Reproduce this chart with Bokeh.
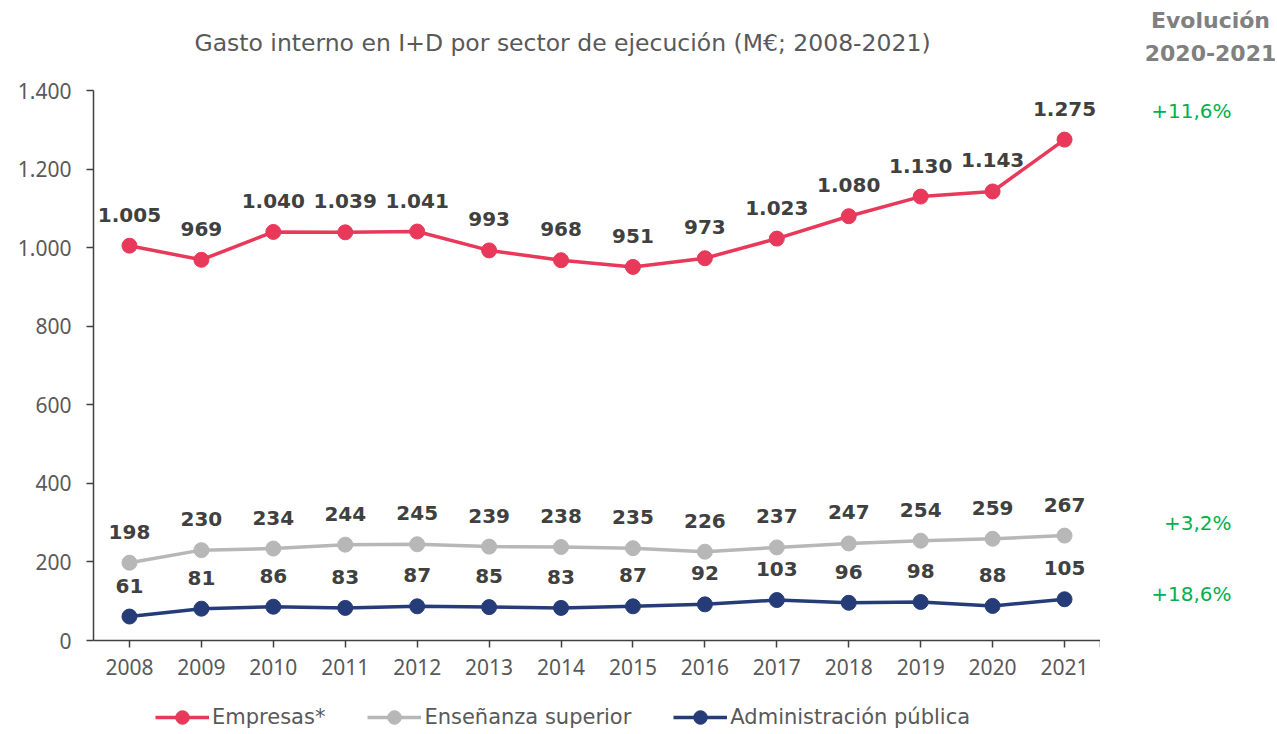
from bokeh.plotting import figure
from bokeh.models import (ColumnDataSource, LabelSet, Label, FixedTicker, Range1d,
                          Legend, LegendItem)
from bokeh.layouts import row, column
from bokeh.core.properties import value
from bokeh.embed import file_html
from bokeh.resources import INLINE

years = list(range(2008, 2022))
empresas = [1005, 969, 1040, 1039, 1041, 993, 968, 951, 973, 1023, 1080, 1130, 1143, 1275]
ensenanza = [198, 230, 234, 244, 245, 239, 238, 235, 226, 237, 247, 254, 259, 267]
administracion = [61, 81, 86, 83, 87, 85, 83, 87, 92, 103, 96, 98, 88, 105]
series_names = ["Empresas*", "Enseñanza superior", "Administración pública"]
evolucion = ["+11,6%", "+3,2%", "+18,6%"]
title_text = "Gasto interno en I+D por sector de ejecución (M€; 2008-2021)"
evol_header = ["Evolución", "2020-2021"]
y_ticks = [0, 200, 400, 600, 800, 1000, 1200, 1400]

colors = ["#E8395A", "#B7B7B7", "#253C78"]
REG = "Noto Sans"
WIDE = "DejaVu Sans"

FL, FT, FR, FB = 93, 90, 1100, 640   # frame edges in page pixels
TOP_H = 70
MAIN_H = 700 - TOP_H
TOTAL_W = 1275
LEG_H = 34


def fmt(v):
    return f"{v:,}".replace(",", ".")


def bare(fig):
    fig.outline_line_color = None
    fig.grid.grid_line_color = None
    fig.background_fill_color = "white"


# top strip: title and "Evolución" header (data units = page pixels)
top = figure(width=TOTAL_W, height=TOP_H, output_backend="svg", toolbar_location=None,
             x_range=Range1d(0, TOTAL_W), y_range=Range1d(TOP_H, 0),
             x_axis_type=None, y_axis_type=None, min_border=0, title=None)
bare(top)
top.add_layout(Label(x=562, y=42, text=title_text, text_align="center",
                     text_baseline="middle", text_font=WIDE, text_font_size="23.5px",
                     text_color="#595959"))
for txt, yy in zip(evol_header, [20, 52]):
    top.add_layout(Label(x=1210, y=yy, text=txt, text_align="center",
                         text_baseline="middle", text_font=WIDE, text_font_style="bold",
                         text_font_size="22px", text_color="#808080"))

# main chart
p = figure(frame_width=FR - FL, frame_height=FB - FT, output_backend="svg",
           toolbar_location=None, title=None,
           x_range=Range1d(2007.5, 2021.5), y_range=Range1d(0, 1400),
           min_border_left=FL, min_border_right=0, min_border_top=FT - TOP_H,
           min_border_bottom=MAIN_H + TOP_H - FB)
bare(p)

p.xaxis.ticker = FixedTicker(ticks=years + [2021.5])
p.xaxis.major_label_overrides = {2021.5: ""}
p.yaxis.ticker = FixedTicker(ticks=y_ticks)
p.yaxis.major_label_overrides = {t: fmt(t) for t in y_ticks}
for ax in (p.xaxis, p.yaxis):
    ax.axis_line_color = "#404040"
    ax.axis_line_width = 1.5
    ax.major_tick_line_color = "#404040"
    ax.major_tick_line_width = 1.5
    ax.major_tick_out = 7
    ax.major_tick_in = 0
    ax.minor_tick_line_color = None
    ax.major_label_text_font = REG
    ax.major_label_text_font_size = "21px"
    ax.major_label_text_color = "#595959"
p.yaxis.major_label_standoff = 15
p.xaxis.major_label_standoff = 11

for vals, col in zip([empresas, ensenanza, administracion], colors):
    src = ColumnDataSource(dict(x=years, y=vals, t=[fmt(v) for v in vals]))
    p.line("x", "y", source=src, line_color=col, line_width=3.5)
    p.scatter("x", "y", source=src, size=15, fill_color=col, line_color=col)
    lab = LabelSet(x="x", y="y", text="t", source=src, y_offset=31,
                   text_align="center", text_baseline="middle",
                   text_font=value(WIDE), text_font_style="bold", text_font_size="20px",
                   text_color="#404040")
    p.add_layout(lab)

# right column: growth figures (data units = page pixels inside its frame)
RL = 1145
r = figure(width=TOTAL_W - FR, height=MAIN_H, output_backend="svg", toolbar_location=None,
           title=None, x_range=Range1d(RL, TOTAL_W), y_range=Range1d(FB, FT),
           x_axis_type=None, y_axis_type=None, min_border=0,
           min_border_left=RL - FR, min_border_top=FT - TOP_H)
bare(r)
for txt, yy in zip(evolucion, [110, 522, 593]):
    r.add_layout(Label(x=1231, y=yy, text=txt, text_align="right",
                       text_baseline="middle", text_font=WIDE,
                       text_font_size="20px", text_color="#00B050"))

# legend strip
lf = figure(width=TOTAL_W, height=LEG_H, output_backend="svg", toolbar_location=None,
            title=None, x_range=Range1d(0, 1), y_range=Range1d(0, 1),
            x_axis_type=None, y_axis_type=None, min_border=0)
bare(lf)
items = []
for col, name in zip(colors, series_names):
    l = lf.line(x=[-5, -4], y=[-5, -4], line_color=col, line_width=3.5)
    s = lf.scatter(x=[-5], y=[-5], size=15, fill_color=col, line_color=col)
    items.append(LegendItem(label=name, renderers=[l, s]))
legend = Legend(items=items, orientation="horizontal", location=(155, 0),
                padding=0, margin=0, spacing=42, glyph_width=54, glyph_height=LEG_H,
                label_standoff=3, border_line_color=None, background_fill_alpha=0,
                label_text_font=WIDE, label_text_font_size="21px",
                label_text_color="#595959")
lf.add_layout(legend, "center")

layout = column(top, row(p, r), lf)
open("out.html", "w").write(file_html(layout, INLINE))
